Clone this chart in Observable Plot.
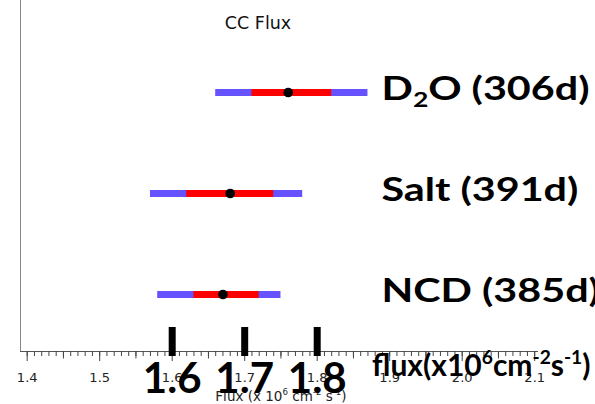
<!DOCTYPE html>
<html><head><meta charset="utf-8">
<script src="https://cdn.jsdelivr.net/npm/d3@7"></script>
<script src="https://cdn.jsdelivr.net/npm/@observablehq/plot@0.6"></script>
<style>body{margin:0;background:#fff}#chart svg{display:block}</style>
</head><body><div id="chart"></div>
<script>
// ---- data ----
const runs = ["D₂O (306d)", "Salt (391d)", "NCD (385d)"];
const fluxCenter = [1.76, 1.68, 1.67];
const statLow = [1.71, 1.62, 1.63];
const statHigh = [1.82, 1.74, 1.72];
const totalLow = [1.66, 1.57, 1.58];
const totalHigh = [1.87, 1.78, 1.75];
const majorTicks = [1.4, 1.5, 1.6, 1.7, 1.8, 1.9, 2.0, 2.1];
const majorTickLabels = ["1.4", "1.5", "1.6", "1.7", "1.8", "1.9", "2.0", "2.1"];
const bigTicks = [1.6, 1.7, 1.8];
const bigTickLabels = ["1.6", "1.7", "1.8"];
const titleText = "CC Flux";
const axisLabel = "Flux (x 10⁶ cm⁻² s⁻¹)";
const bigAxisLabel = "flux(x10⁶cm⁻²s⁻¹)";

const rows = runs.map((name, i) => ({
  name, center: fluxCenter[i], statLo: statLow[i], statHi: statHigh[i],
  totLo: totalLow[i], totHi: totalHigh[i]
}));
const minorTicks = d3.range(140, 211).map(d => d / 100);
const midTicks = d3.range(145, 210, 10).map(d => d / 100);

const small = "DejaVu Sans";
const big = "Lato";

const chart = Plot.plot({
  width: 595, height: 404,
  marginTop: 0, marginLeft: 20, marginRight: 58, marginBottom: 53,
  style: {background: "#fff", color: "#000", fontFamily: small},
  x: {domain: [1.4, 2.1], range: [26.7, 534.2], label: null},
  y: {type: "point", domain: runs, range: [92.3, 294.3], padding: 0, axis: null, label: null},
  marks: [
    Plot.frame({anchor: "left", stroke: "#888"}),
    Plot.frame({anchor: "bottom", stroke: "#555"}),
    Plot.axisX(minorTicks, {tickSize: 5, tickFormat: () => "", stroke: "#444", label: null}),
    Plot.axisX(midTicks, {tickSize: 7.5, tickFormat: () => "", stroke: "#444", label: null}),
    Plot.axisX(majorTicks, {tickSize: 10, tickPadding: 11, stroke: "#444", fill: "#222",
      tickFormat: d => majorTickLabels[majorTicks.indexOf(d)], fontSize: 13, fontFamily: small, label: null}),
    Plot.text([axisLabel], {frameAnchor: "bottom", dx: 2, dy: 49, fontSize: 13.5, fontFamily: small, fill: "#222"}),
    Plot.text([titleText], {frameAnchor: "top", dx: -21, dy: 16.5, fontSize: 17.5, fontFamily: small, fill: "#111"}),
    Plot.ruleY(rows, {y: "name", x1: "totLo", x2: "totHi", stroke: "#6652ff", strokeWidth: 7}),
    Plot.ruleY(rows, {y: "name", x1: "statLo", x2: "statHi", stroke: "#ff0000", strokeWidth: 7}),
    Plot.dot(rows, {x: "center", y: "name", r: 4.8, fill: "#000"}),
    Plot.text(rows, {y: "name", text: "name", frameAnchor: "left", dx: 361, dy: -2.5, textAnchor: "start",
      fontFamily: big, fontWeight: 700, fontSize: 32, fill: "#000"}),
    Plot.axisX(bigTicks, {tickSize: 29, dy: -24, strokeWidth: 7, stroke: "#000", tickPadding: 7,
      tickFormat: d => bigTickLabels[bigTicks.indexOf(d)], fontFamily: big, fontWeight: 700, fontSize: 42,
      fill: "#000", label: null}),
    Plot.text([bigAxisLabel], {frameAnchor: "bottom-right", dx: 53, dy: 24, textAnchor: "end",
      fontFamily: big, fontWeight: 700, fontSize: 30, fill: "#000"})
  ]
});
document.getElementById("chart").appendChild(chart);

// the large run labels (stretched horizontally in the reference)
const runTexts = [...chart.querySelectorAll("text")].filter(t => runs.includes(t.textContent));

// render super/subscript characters as raised/lowered tspans
const supMap = {"⁰":"0","¹":"1","²":"2","³":"3","⁴":"4","⁵":"5","⁶":"6","⁷":"7","⁸":"8","⁹":"9","⁻":"-"};
const subMap = {"₂":"2"};
chart.querySelectorAll("text").forEach(t => {
  const s = t.textContent;
  if (![...s].some(c => supMap[c] || subMap[c])) return;
  const fs = parseFloat(getComputedStyle(t).fontSize);
  const parts = [];
  for (const c of s) {
    const type = supMap[c] ? "sup" : subMap[c] ? "sub" : "n";
    const ch = supMap[c] || subMap[c] || c;
    if (parts.length && parts[parts.length - 1].type === type) parts[parts.length - 1].str += ch;
    else parts.push({type, str: ch});
  }
  while (t.firstChild) t.removeChild(t.firstChild);
  let shift = 0;
  for (const r of parts) {
    const ts = document.createElementNS("http://www.w3.org/2000/svg", "tspan");
    const target = r.type === "sup" ? -0.4 * fs : r.type === "sub" ? 0.22 * fs : 0;
    if (target !== shift) ts.setAttribute("dy", target - shift);
    shift = target;
    if (r.type !== "n") ts.setAttribute("font-size", (0.64 * fs) + "px");
    ts.textContent = r.str;
    t.appendChild(ts);
  }
});

// widen the run labels to the reference's proportions
if (runTexts.length) {
  const sx = 208 / runTexts[0].getComputedTextLength();
  runTexts.forEach(t => {
    t.setAttribute("textLength", t.getComputedTextLength() * sx);
    t.setAttribute("lengthAdjust", "spacingAndGlyphs");
  });
}
</script>
</body></html>
